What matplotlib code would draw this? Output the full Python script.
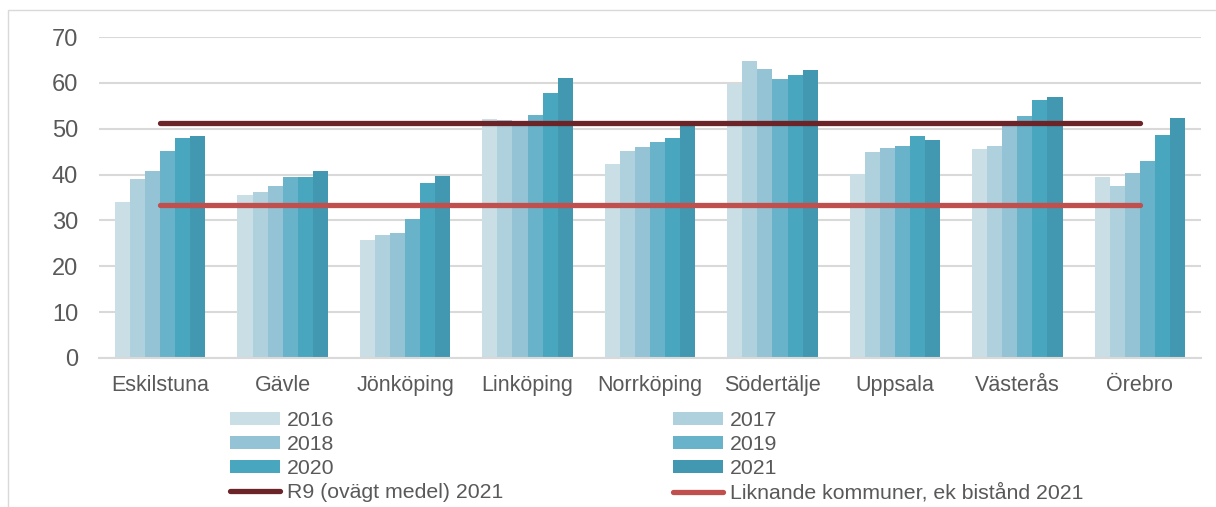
import numpy as np
import matplotlib.pyplot as plt
from matplotlib.patches import Rectangle

plt.rcParams['font.family'] = ['Liberation Sans', 'DejaVu Sans']

cities = ['Eskilstuna', 'Gävle', 'Jönköping', 'Linköping', 'Norrköping',
          'Södertälje', 'Uppsala', 'Västerås', 'Örebro']
years = ['2016', '2017', '2018', '2019', '2020', '2021']

v2016 = [34.0, 35.5, 25.7, 52.1, 42.3, 59.8, 40.1, 45.6, 39.5]
v2017 = [39.0, 36.2, 26.8, 51.8, 45.1, 64.8, 44.9, 46.2, 37.5]
v2018 = [40.8, 37.5, 27.3, 51.6, 46.0, 63.1, 45.8, 51.6, 40.3]
v2019 = [45.1, 39.5, 30.3, 53.0, 47.1, 60.9, 46.2, 52.7, 43.0]
v2020 = [48.0, 39.5, 38.2, 57.8, 48.0, 61.7, 48.4, 56.2, 48.6]
v2021 = [48.4, 40.8, 39.7, 61.1, 51.0, 62.8, 47.5, 57.0, 52.3]
series = [v2016, v2017, v2018, v2019, v2020, v2021]

r9_2021 = 51.2
liknande_2021 = 33.3

colors = ['#C9DEE5', '#AFD1DD', '#93C3D4', '#68B3CA', '#49A6BF', '#4298B0']
txt = '#595959'

fig = plt.figure(figsize=(12.16, 5.07), dpi=100)
ax = fig.add_axes([99 / 1216, 1 - 358 / 507, 1102 / 1216, 321 / 507])

x = np.arange(len(cities))
w = 0.123
bars = []
for i, vals in enumerate(series):
    b = ax.bar(x + (i - 2.5) * w, vals, w, color=colors[i], label=years[i], zorder=2)
    bars.append(b)

l1, = ax.plot([x[0], x[-1]], [r9_2021] * 2, color='#6B2427', lw=3.8,
              solid_capstyle='round', zorder=3, label='R9 (ovägt medel) 2021')
l2, = ax.plot([x[0], x[-1]], [liknande_2021] * 2, color='#C0504D', lw=3.8,
              solid_capstyle='round', zorder=3, label='Liknande kommuner, ek bistånd 2021')

ax.set_xlim(-0.5, len(cities) - 0.5)
ax.set_ylim(0, 70)
ax.set_yticks(range(0, 71, 10))
ax.set_xticks(x)
ax.set_xticklabels(cities)
ax.yaxis.grid(True, color='#D9D9D9', lw=1.5, zorder=0)
ax.set_axisbelow(True)
for s in ['top', 'right', 'left']:
    ax.spines[s].set_visible(False)
ax.spines['bottom'].set_color('#D9D9D9')
ax.spines['bottom'].set_linewidth(1.5)
ax.tick_params(axis='both', length=0, labelcolor=txt)
ax.tick_params(axis='x', labelsize=15.5, pad=12)
ax.tick_params(axis='y', labelsize=17, pad=15)

kw = dict(frameon=False, fontsize=15.3, handlelength=2.35, handleheight=0.6,
          handletextpad=0.33, labelspacing=0.24, borderpad=0, borderaxespad=0,
          labelcolor=txt)
leg1 = fig.legend([bars[0], bars[2], bars[4], l1],
                  ['2016', '2018', '2020', 'R9 (ovägt medel) 2021'],
                  loc='upper left', bbox_to_anchor=(230 / 1216, 1 - 411 / 507), **kw)
leg2 = fig.legend([bars[1], bars[3], bars[5], l2],
                  ['2017', '2019', '2021', 'Liknande kommuner, ek bistånd 2021'],
                  loc='upper left', bbox_to_anchor=(673 / 1216, 1 - 411 / 507), **kw)

fig.patches.append(Rectangle((8 / 1216, -0.1), 1.2, 1 - 10 / 507 + 0.1,
                             transform=fig.transFigure, fill=False,
                             edgecolor='#D9D9D9', lw=1))

fig.savefig('out.png', dpi=100)
